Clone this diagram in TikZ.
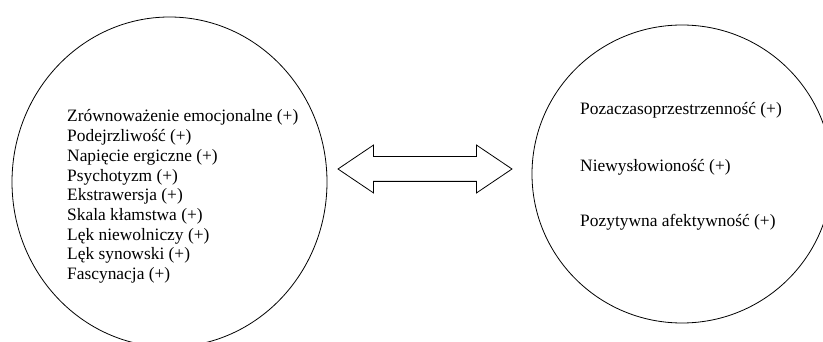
\documentclass[tikz,border=0pt]{standalone}
\usepackage{fontspec}
\setmainfont{Liberation Serif}
\usetikzlibrary{shapes.geometric,shapes.arrows}
\begin{document}
\begin{tikzpicture}[x=1pt,y=-1pt,
  circ/.style={draw,line width=0.8pt,ellipse,inner sep=0pt},
  item/.style={anchor=base west,inner sep=0pt,font=\fontsize{17.4}{19.7}\selectfont},
  link/.style={draw,line width=0.8pt,shape=double arrow,inner sep=0pt,
    text height=12pt,text depth=12pt,
    minimum height=174pt,
    double arrow head extend=11.5pt,double arrow tip angle=68}]
\useasboundingbox (0,0) rectangle (823,342);
\clip (0,0) rectangle (823,342);
\node[circ,minimum width=315pt,minimum height=330pt] (left) at (169.5,182) {};
\node[circ,minimum width=300pt,minimum height=298pt] (right) at (682,174) {};
\node[link] (arrow) at (425,169) {};
\foreach \t [count=\i] in {Zrównoważenie emocjonalne,Podejrzliwość,Napięcie ergiczne,Psychotyzm,Ekstrawersja,Skala kłamstwa,Lęk niewolniczy,Lęk synowski,Fascynacja}
  \node[item] (l\i) at (67,{122+19.7*(\i-1)}) {\t{} (+)};
\node[item] (r1) at (580,115) {Pozaczasoprzestrzenność (+)};
\node[item] (r2) at (580,172) {Niewysłowioność (+)};
\node[item] (r3) at (580,227) {Pozytywna afektywność (+)};
\end{tikzpicture}
\end{document}
